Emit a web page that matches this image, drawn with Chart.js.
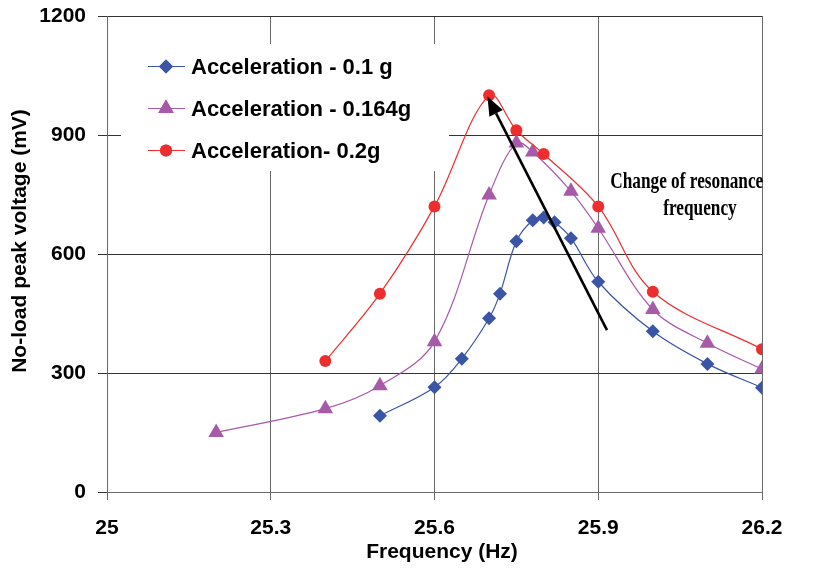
<!DOCTYPE html>
<html>
<head>
<meta charset="utf-8">
<script src="https://cdn.jsdelivr.net/npm/chart.js@4.4.1/dist/chart.umd.min.js"></script>
<style>
  html, body { margin: 0; padding: 0; background: #fff; }
  #wrap { width: 815px; height: 576px; position: relative; }
</style>
</head>
<body>
<div id="wrap"><canvas id="resChart" width="815" height="576"></canvas></div>
<script>
// frequency (Hz) and no-load peak voltage (mV) per acceleration level
const freqA = [25.5, 25.6, 25.65, 25.7, 25.72, 25.75, 25.78, 25.8, 25.82, 25.85, 25.9, 26.0, 26.1, 26.2];
const voltA = [192, 264, 336, 438, 500, 632, 685, 692, 680, 640, 530, 405, 323, 263];

const freqB = [25.2, 25.4, 25.5, 25.6, 25.7, 25.75, 25.78, 25.85, 25.9, 26.0, 26.1, 26.2];
const voltB = [150, 210, 268, 379, 749, 880, 857, 758, 665, 460, 375, 310];

const freqC = [25.4, 25.5, 25.6, 25.7, 25.75, 25.8, 25.9, 26.0, 26.2];
const voltC = [330, 500, 720, 1000, 912, 852, 720, 505, 360];

const seriesNames = ['Acceleration - 0.1 g', 'Acceleration - 0.164g', 'Acceleration- 0.2g'];
const xTicks = [25, 25.3, 25.6, 25.9, 26.2];
const yTicks = [0, 300, 600, 900, 1200];

// arrow: tail -> tip, in data units
const arrowFrom = [25.916, 408];
const arrowTo = [25.697, 997];
const noteLines = ['Change of resonance', 'frequency'];

const blue = '#3a55a6';
const purple = '#a65aa8';
const red = '#ee2e2e';

function pts(xs, ys) {
  return xs.map((x, i) => ({ x: x, y: ys[i] }));
}

const boldSans = '"Liberation Sans", Arial, sans-serif';

const extras = {
  id: 'extras',
  afterDraw(chart) {
    const ctx = chart.ctx;
    const xs = chart.scales.x, ys = chart.scales.y;
    ctx.save();

    // legend box
    ctx.fillStyle = '#fff';
    ctx.fillRect(121, 44, 328, 127);
    const rows = [
      { c: blue, s: 'rectRot', r: 7 },
      { c: purple, s: 'triangle', r: 9 },
      { c: red, s: 'circle', r: 6 }
    ];
    rows.forEach((row, i) => {
      const cy = 66.5 + i * 42;
      ctx.strokeStyle = row.c;
      ctx.lineWidth = 1.2;
      ctx.beginPath();
      ctx.moveTo(148, cy);
      ctx.lineTo(185, cy);
      ctx.stroke();
      ctx.fillStyle = row.c;
      Chart.helpers.drawPoint(ctx, { pointStyle: row.s, radius: row.r, borderWidth: 0 }, 166, cy);
      ctx.fill();
      ctx.fillStyle = '#000';
      ctx.font = 'bold 22px ' + boldSans;
      ctx.textAlign = 'left';
      ctx.textBaseline = 'alphabetic';
      ctx.fillText(seriesNames[i], 191, cy + 7.5);
    });

    // arrow
    const x0 = xs.getPixelForValue(arrowFrom[0]), y0 = ys.getPixelForValue(arrowFrom[1]);
    const x1 = xs.getPixelForValue(arrowTo[0]), y1 = ys.getPixelForValue(arrowTo[1]);
    const ang = Math.atan2(y1 - y0, x1 - x0);
    const headLen = 19, headW = 7.5;
    const bx = x1 - Math.cos(ang) * headLen, by = y1 - Math.sin(ang) * headLen;
    ctx.strokeStyle = '#000';
    ctx.lineWidth = 2.6;
    ctx.beginPath();
    ctx.moveTo(x0, y0);
    ctx.lineTo(bx, by);
    ctx.stroke();
    ctx.fillStyle = '#000';
    ctx.beginPath();
    ctx.moveTo(x1, y1);
    ctx.lineTo(bx + Math.sin(ang) * headW, by - Math.cos(ang) * headW);
    ctx.lineTo(bx - Math.sin(ang) * headW, by + Math.cos(ang) * headW);
    ctx.closePath();
    ctx.fill();

    // note text
    ctx.font = 'bold 23px "Liberation Serif", "Times New Roman", serif';
    ctx.textAlign = 'left';
    ctx.textBaseline = 'alphabetic';
    const nx1 = xs.getPixelForValue(25.922), ny1 = ys.getPixelForValue(766);
    const nx2 = xs.getPixelForValue(26.019), ny2 = ys.getPixelForValue(698);
    [[noteLines[0], nx1, ny1], [noteLines[1], nx2, ny2]].forEach(t => {
      ctx.save();
      ctx.translate(t[1], t[2]);
      ctx.scale(0.75, 1);
      ctx.fillText(t[0], 0, 0);
      ctx.restore();
    });

    // axis titles
    ctx.font = 'bold 21px ' + boldSans;
    ctx.textAlign = 'center';
    ctx.textBaseline = 'middle';
    ctx.fillText('Frequency (Hz)', 442, 552);
    ctx.save();
    ctx.translate(20, 241);
    ctx.rotate(-Math.PI / 2);
    ctx.fillText('No-load peak voltage (mV)', 0, 0);
    ctx.restore();

    ctx.restore();
  }
};

const datasets = [
  { label: seriesNames[0], data: pts(freqA, voltA), borderColor: blue, backgroundColor: blue,
    pointStyle: 'rectRot', pointRadius: 7, order: 2 },
  { label: seriesNames[1], data: pts(freqB, voltB), borderColor: purple, backgroundColor: purple,
    pointStyle: 'triangle', pointRadius: 9, order: 1 },
  { label: seriesNames[2], data: pts(freqC, voltC), borderColor: red, backgroundColor: red,
    pointStyle: 'circle', pointRadius: 6, order: 0 }
].map(d => Object.assign(d, { showLine: true, borderWidth: 1.2, tension: 0.35, pointBorderWidth: 0 }));

new Chart(document.getElementById('resChart'), {
  type: 'scatter',
  data: { datasets: datasets },
  options: {
    responsive: false,
    animation: false,
    layout: { padding: { top: 16, right: 53, left: 0, bottom: 0 } },
    plugins: { legend: { display: false }, tooltip: { enabled: false } },
    scales: {
      x: {
        type: 'linear',
        min: 25, max: 26.2,
        afterBuildTicks: s => { s.ticks = xTicks.map(v => ({ value: v })); },
        afterFit: s => { s.height = 84; s.paddingLeft = 0; s.paddingRight = 0; },
        ticks: {
          color: '#000',
          font: { family: boldSans, size: 21, weight: 'bold' },
          padding: 16,
          maxRotation: 0,
          callback: v => String(v)
        },
        grid: { color: '#6a6a6a', lineWidth: 1, tickLength: 8 },
        border: { color: '#6a6a6a' }
      },
      y: {
        min: 0, max: 1200,
        afterBuildTicks: s => { s.ticks = yTicks.map(v => ({ value: v })); },
        afterFit: s => { s.width = 107; s.paddingTop = 0; s.paddingBottom = 0; },
        ticks: {
          color: '#000',
          font: { family: boldSans, size: 21, weight: 'bold' },
          padding: 12,
          callback: v => String(v)
        },
        grid: { color: '#333', lineWidth: 1, tickLength: 9 },
        border: { color: '#6a6a6a' }
      }
    }
  },
  plugins: [extras]
});
</script>
</body>
</html>
